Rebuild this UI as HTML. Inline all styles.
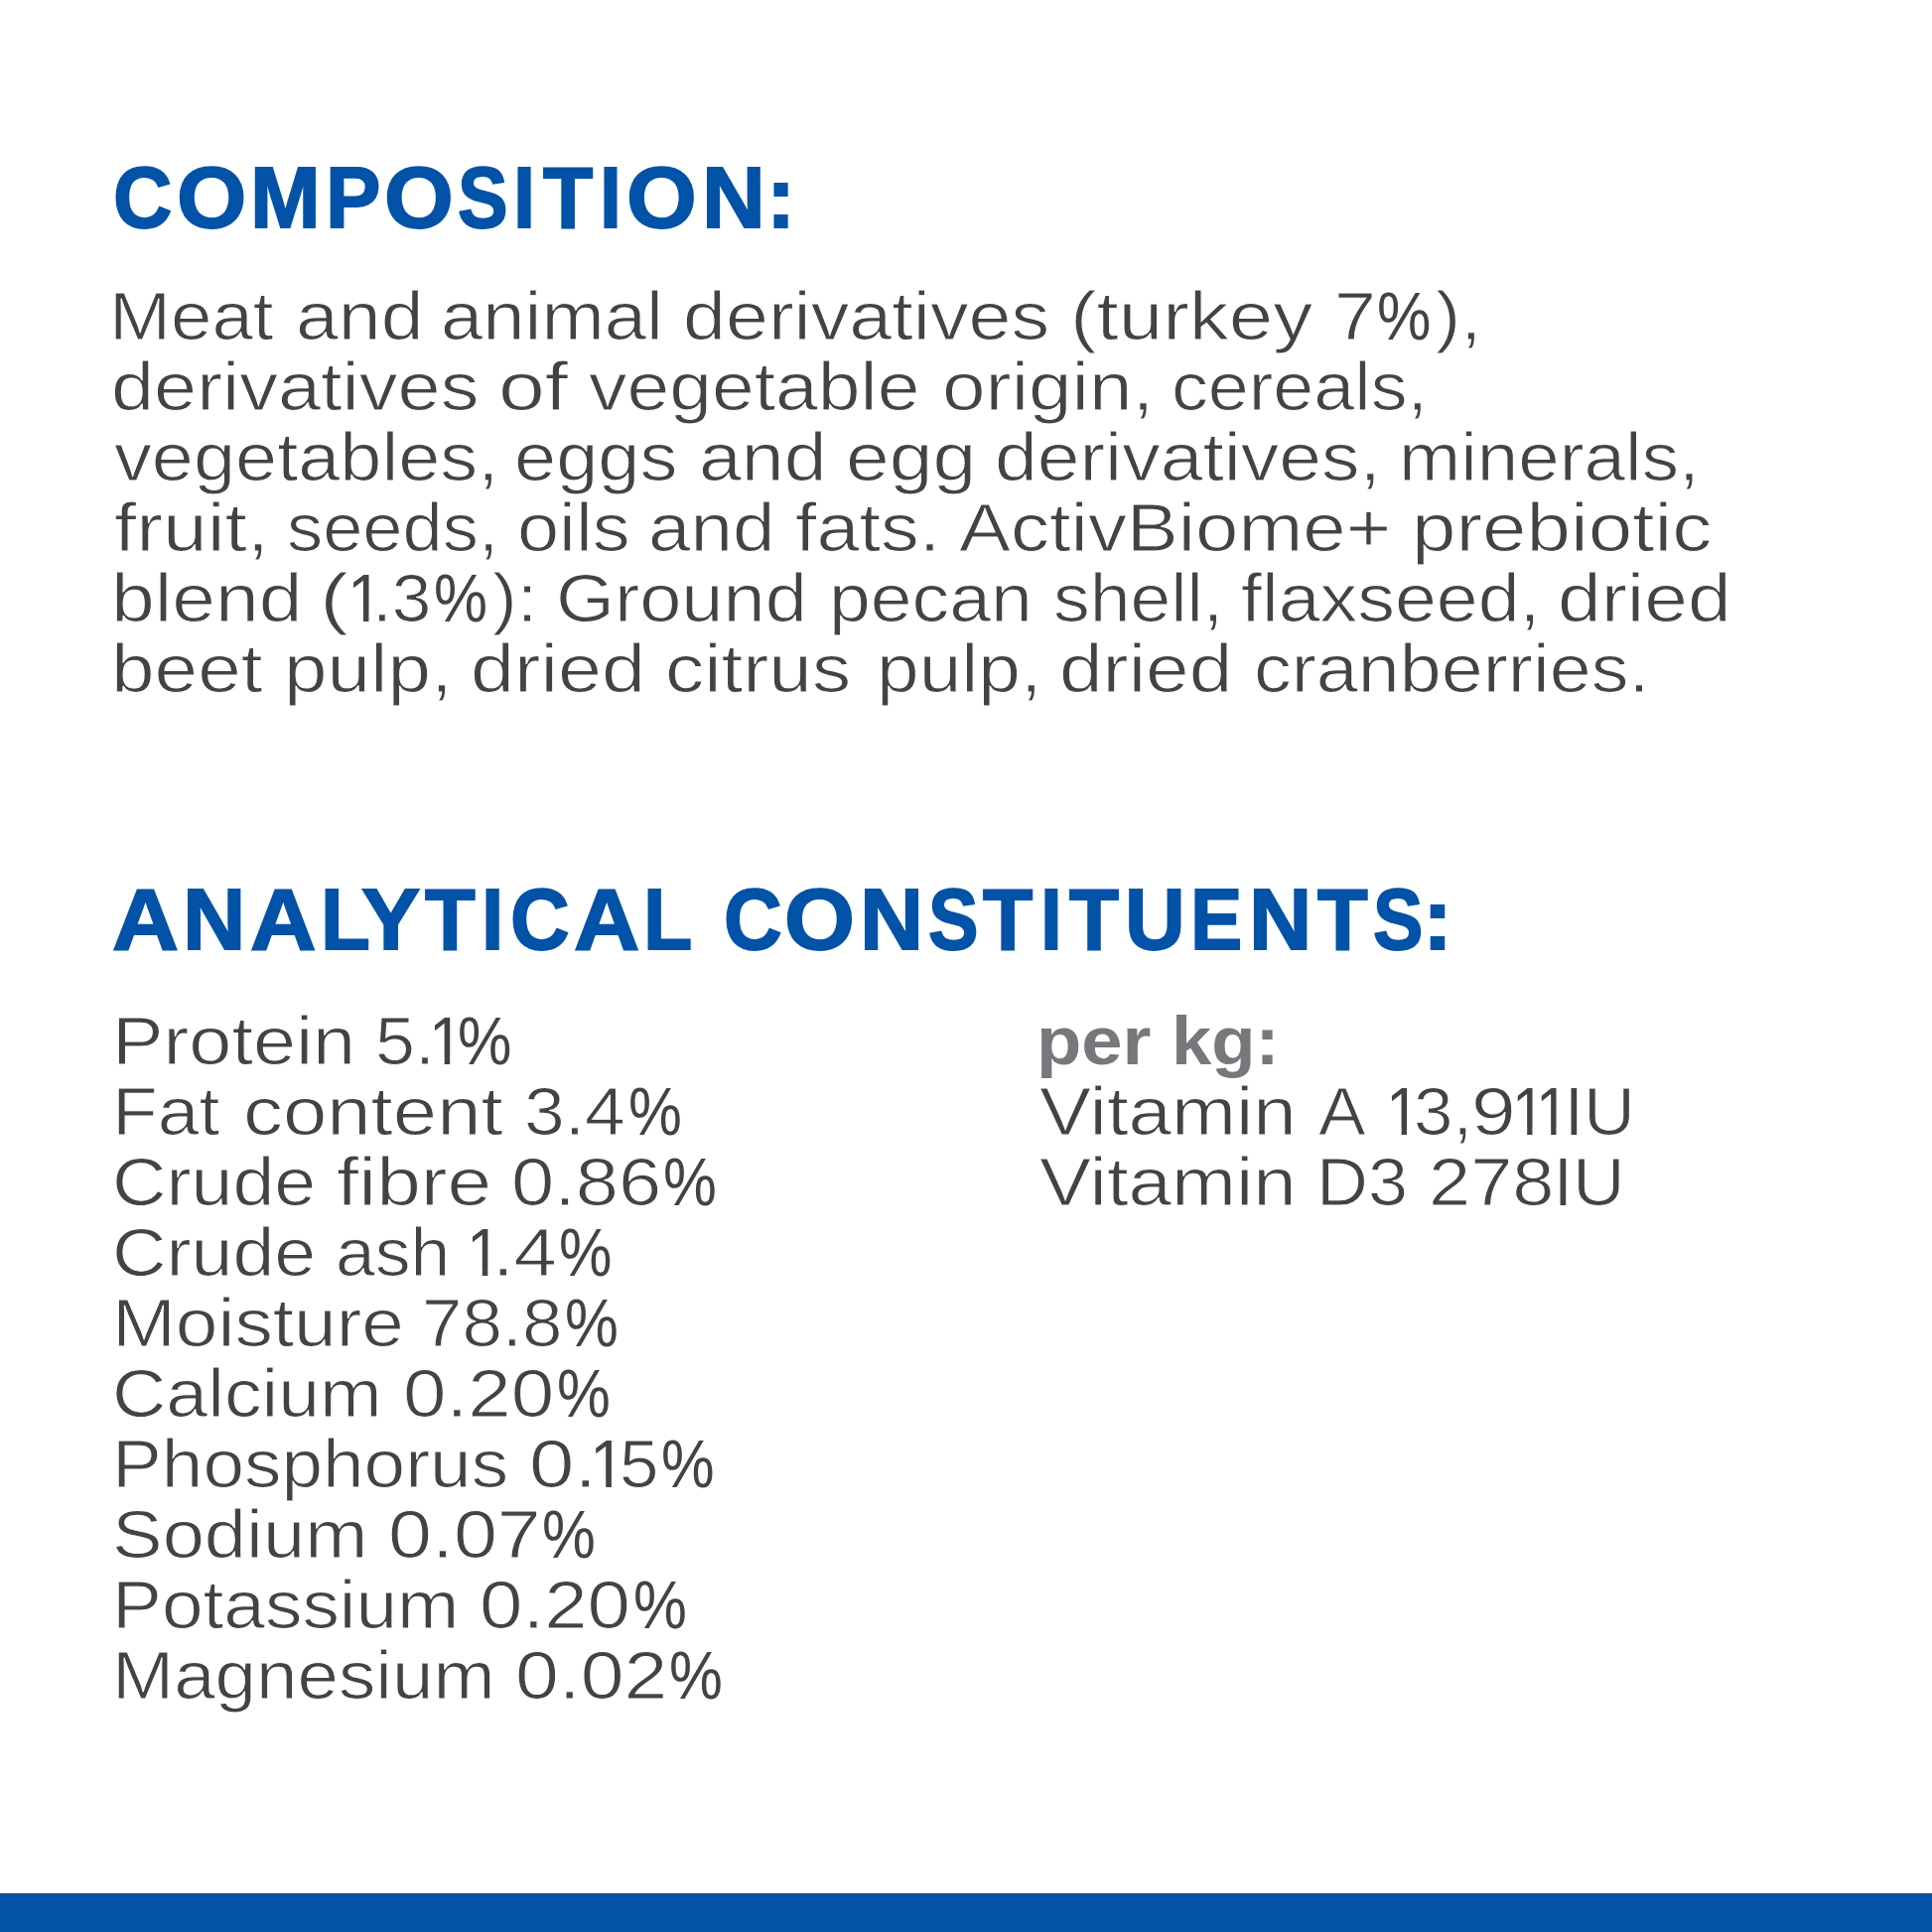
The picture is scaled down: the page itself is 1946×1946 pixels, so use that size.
<!DOCTYPE html>
<html lang="en"><head><meta charset="utf-8"><title>Composition</title>
<style>
html,body{margin:0;padding:0;background:#fff;}
body{width:1946px;height:1946px;position:relative;overflow:hidden;font-family:"Liberation Sans",sans-serif;}
h1,h2,h3,p,ul,li{margin:0;padding:0;list-style:none;font-size:0;line-height:0;font-weight:normal;}
.w{position:absolute;white-space:pre;transform-origin:0 0;display:block;}
.n{font-size:68.3px;line-height:68.3px;font-weight:400;color:#414347;}
.h{font-size:86.9px;line-height:86.9px;font-weight:700;color:#0252A8;-webkit-text-stroke:1.8px #0252A8;}
.b{font-size:68.3px;line-height:68.3px;font-weight:400;color:#414347;-webkit-text-stroke:1px #fff;}
.k{font-size:68.3px;line-height:68.3px;font-weight:700;color:#77787C;}
.bar{position:absolute;left:0;top:1907px;width:1946px;height:39px;background:linear-gradient(#15487f 0,#15487f 1px,#0a4f9c 1px,#0a4f9c 2px,#0252A8 2px,#0252A8 100%);}
</style></head><body>
<h1><span class="w h" style="left:114.46px;top:155.55px;transform:scaleX(0.9458);">C</span><span class="w h" style="left:177.51px;top:155.55px;transform:scaleX(1.0402);">O</span><span class="w h" style="left:251.50px;top:155.55px;transform:scaleX(0.9769);">M</span><span class="w h" style="left:328.20px;top:155.55px;transform:scaleX(0.9567);">P</span><span class="w h" style="left:387.13px;top:155.55px;transform:scaleX(1.0322);">O</span><span class="w h" style="left:460.92px;top:155.55px;transform:scaleX(0.8730);">S</span><span class="w h" style="left:517.21px;top:155.55px;transform:scaleX(0.9150);">I</span><span class="w h" style="left:547.12px;top:155.55px;transform:scaleX(0.9468);">T</span><span class="w h" style="left:604.24px;top:155.55px;transform:scaleX(0.9080);">I</span><span class="w h" style="left:631.39px;top:155.55px;transform:scaleX(1.0467);">O</span><span class="w h" style="left:707.20px;top:155.55px;transform:scaleX(1.0178);">N</span><span class="w h" style="left:771.98px;top:155.55px;transform:scaleX(1.0069);">:</span></h1>
<p>
<span class="w b" style="left:110.29px;top:283.95px;transform:scaleX(1.0898);">Meat</span> <span class="w b" style="left:297.66px;top:283.95px;transform:scaleX(1.1275);">and</span> <span class="w b" style="left:444.11px;top:283.95px;transform:scaleX(1.1134);">animal</span> <span class="w b" style="left:688.20px;top:283.95px;transform:scaleX(1.1305);">derivatives</span> <span class="w b" style="left:1077.74px;top:283.95px;transform:scaleX(1.1697);">(turkey</span> <span class="w b" style="left:1344.49px;top:283.95px;transform:scaleX(1.1033);">7</span><span class="w n" style="left:1386.50px;top:283.95px;transform:scaleX(0.8958);">%</span><span class="w b" style="left:1445.65px;top:283.95px;transform:scaleX(1.1058);">),</span>
<span class="w b" style="left:112.19px;top:354.95px;transform:scaleX(1.1346);">derivatives</span> <span class="w b" style="left:502.34px;top:354.95px;transform:scaleX(1.2326);">of</span> <span class="w b" style="left:593.43px;top:354.95px;transform:scaleX(1.1256);">vegetable</span> <span class="w b" style="left:949.14px;top:354.95px;transform:scaleX(1.1468);">origin,</span> <span class="w b" style="left:1179.74px;top:354.95px;transform:scaleX(1.0788);">cereals,</span>
<span class="w b" style="left:115.04px;top:426.05px;transform:scaleX(1.1084);">vegetables,</span> <span class="w b" style="left:518.45px;top:426.05px;transform:scaleX(1.1094);">eggs</span> <span class="w b" style="left:703.86px;top:426.05px;transform:scaleX(1.1275);">and</span> <span class="w b" style="left:851.50px;top:426.05px;transform:scaleX(1.1527);">egg</span> <span class="w b" style="left:1002.22px;top:426.05px;transform:scaleX(1.1257);">derivatives,</span> <span class="w b" style="left:1409.00px;top:426.05px;transform:scaleX(1.0927);">minerals,</span>
<span class="w b" style="left:115.20px;top:497.05px;transform:scaleX(1.1757);">fruit,</span> <span class="w b" style="left:288.79px;top:497.05px;transform:scaleX(1.0585);">seeds,</span> <span class="w b" style="left:520.57px;top:497.05px;transform:scaleX(1.1081);">oils</span> <span class="w b" style="left:652.99px;top:497.05px;transform:scaleX(1.1190);">and</span> <span class="w b" style="left:800.77px;top:497.05px;transform:scaleX(1.1334);">fats.</span> <span class="w b" style="left:965.71px;top:497.05px;transform:scaleX(1.1408);">ActivBiome+</span> <span class="w b" style="left:1421.65px;top:497.05px;transform:scaleX(1.1703);">prebiotic</span>
<span class="w b" style="left:112.04px;top:568.15px;transform:scaleX(1.1520);">blend</span> <span class="w b" style="left:321.71px;top:568.15px;transform:scaleX(1.2775);">(</span><span class="w n" style="left:349.52px;top:568.15px;transform:scaleX(0.9254);clip-path:polygon(0 0,37.99px 0,37.99px 51.75px,23.21px 51.75px,23.21px 68.30px,17.18px 68.30px,17.18px 51.75px,0 51.75px);">1</span><span class="w b" style="left:375.48px;top:568.15px;transform:scaleX(1.0424);">.3</span><span class="w n" style="left:437.31px;top:568.15px;transform:scaleX(0.8886);">%</span><span class="w b" style="left:495.76px;top:568.15px;transform:scaleX(1.0877);">):</span> <span class="w b" style="left:560.42px;top:568.15px;transform:scaleX(1.1100);">Ground</span> <span class="w b" style="left:835.20px;top:568.15px;transform:scaleX(1.1006);">pecan</span> <span class="w b" style="left:1060.64px;top:568.15px;transform:scaleX(1.0739);">shell,</span> <span class="w b" style="left:1250.01px;top:568.15px;transform:scaleX(1.1031);">flaxseed,</span> <span class="w b" style="left:1569.13px;top:568.15px;transform:scaleX(1.1505);">dried</span>
<span class="w b" style="left:112.07px;top:639.15px;transform:scaleX(1.1470);">beet</span> <span class="w b" style="left:286.17px;top:639.15px;transform:scaleX(1.1457);">pulp,</span> <span class="w b" style="left:473.81px;top:639.15px;transform:scaleX(1.1589);">dried</span> <span class="w b" style="left:669.90px;top:639.15px;transform:scaleX(1.1463);">citrus</span> <span class="w b" style="left:882.99px;top:639.15px;transform:scaleX(1.1230);">pulp,</span> <span class="w b" style="left:1067.44px;top:639.15px;transform:scaleX(1.1478);">dried</span> <span class="w b" style="left:1263.35px;top:639.15px;transform:scaleX(1.1048);">cranberries.</span>
</p>
<h2><span class="w h" style="left:112.86px;top:883.05px;transform:scaleX(1.0683);">A</span><span class="w h" style="left:183.84px;top:883.05px;transform:scaleX(1.0102);">N</span><span class="w h" style="left:252.47px;top:883.05px;transform:scaleX(1.0599);">A</span><span class="w h" style="left:323.39px;top:883.05px;transform:scaleX(0.9398);">L</span><span class="w h" style="left:364.37px;top:883.05px;transform:scaleX(1.0227);">Y</span><span class="w h" style="left:427.82px;top:883.05px;transform:scaleX(0.9562);">T</span><span class="w h" style="left:485.17px;top:883.05px;transform:scaleX(0.9219);">I</span><span class="w h" style="left:514.25px;top:883.05px;transform:scaleX(0.9509);">C</span><span class="w h" style="left:577.57px;top:883.05px;transform:scaleX(1.0566);">A</span><span class="w h" style="left:648.44px;top:883.05px;transform:scaleX(0.9290);">L</span> <span class="w h" style="left:728.59px;top:883.05px;transform:scaleX(0.9356);">C</span><span class="w h" style="left:790.18px;top:883.05px;transform:scaleX(1.0499);">O</span><span class="w h" style="left:865.58px;top:883.05px;transform:scaleX(1.0216);">N</span><span class="w h" style="left:934.92px;top:883.05px;transform:scaleX(0.8712);">S</span><span class="w h" style="left:989.82px;top:883.05px;transform:scaleX(0.9468);">T</span><span class="w h" style="left:1048.08px;top:883.05px;transform:scaleX(0.9010);">I</span><span class="w h" style="left:1077.02px;top:883.05px;transform:scaleX(0.9411);">T</span><span class="w h" style="left:1132.51px;top:883.05px;transform:scaleX(0.9664);">U</span><span class="w h" style="left:1199.47px;top:883.05px;transform:scaleX(0.9022);">E</span><span class="w h" style="left:1258.34px;top:883.05px;transform:scaleX(1.0102);">N</span><span class="w h" style="left:1327.12px;top:883.05px;transform:scaleX(0.9562);">T</span><span class="w h" style="left:1382.82px;top:883.05px;transform:scaleX(0.8693);">S</span><span class="w h" style="left:1433.47px;top:883.05px;transform:scaleX(1.0354);">:</span></h2>
<ul>
<li><span class="w b" style="left:112.53px;top:1013.75px;transform:scaleX(1.1328);">Protein</span> <span class="w b" style="left:378.06px;top:1013.75px;transform:scaleX(1.0517);">5.</span><span class="w n" style="left:432.20px;top:1013.75px;transform:scaleX(0.9134);clip-path:polygon(0 0,37.99px 0,37.99px 51.75px,23.21px 51.75px,23.21px 68.30px,17.18px 68.30px,17.18px 51.75px,0 51.75px);">1</span><span class="w n" style="left:461.10px;top:1013.75px;transform:scaleX(0.8958);">%</span></li>
<li><span class="w b" style="left:112.75px;top:1084.75px;transform:scaleX(1.0969);">Fat</span> <span class="w b" style="left:244.53px;top:1084.75px;transform:scaleX(1.1679);">content</span> <span class="w b" style="left:528.03px;top:1084.75px;transform:scaleX(1.0720);">3.4</span><span class="w n" style="left:633.22px;top:1084.75px;transform:scaleX(0.8868);">%</span></li>
<li><span class="w b" style="left:113.44px;top:1155.75px;transform:scaleX(1.1033);">Crude</span> <span class="w b" style="left:339.10px;top:1155.75px;transform:scaleX(1.1761);">fibre</span> <span class="w b" style="left:515.15px;top:1155.75px;transform:scaleX(1.1373);">0.86</span><span class="w n" style="left:668.42px;top:1155.75px;transform:scaleX(0.8868);">%</span></li>
<li><span class="w b" style="left:113.44px;top:1226.85px;transform:scaleX(1.1033);">Crude</span> <span class="w b" style="left:338.24px;top:1226.85px;transform:scaleX(1.0481);">ash</span> <span class="w n" style="left:470.06px;top:1226.85px;transform:scaleX(0.9194);clip-path:polygon(0 0,37.99px 0,37.99px 51.75px,23.21px 51.75px,23.21px 68.30px,17.18px 68.30px,17.18px 51.75px,0 51.75px);">1</span><span class="w b" style="left:495.52px;top:1226.85px;transform:scaleX(1.1389);">.4</span><span class="w n" style="left:563.34px;top:1226.85px;transform:scaleX(0.8797);">%</span></li>
<li><span class="w b" style="left:112.59px;top:1297.95px;transform:scaleX(1.1219);">Moisture</span> <span class="w b" style="left:425.44px;top:1297.95px;transform:scaleX(1.0644);">78.8</span><span class="w n" style="left:569.32px;top:1297.95px;transform:scaleX(0.8868);">%</span></li>
<li><span class="w b" style="left:113.45px;top:1369.05px;transform:scaleX(1.1017);">Calcium</span> <span class="w b" style="left:405.82px;top:1369.05px;transform:scaleX(1.1448);">0.20</span><span class="w n" style="left:560.82px;top:1369.05px;transform:scaleX(0.8868);">%</span></li>
<li><span class="w b" style="left:112.76px;top:1440.05px;transform:scaleX(1.0948);">Phosphorus</span> <span class="w b" style="left:533.48px;top:1440.05px;transform:scaleX(1.1950);">0.</span><span class="w n" style="left:594.20px;top:1440.05px;transform:scaleX(0.9434);clip-path:polygon(0 0,37.99px 0,37.99px 51.75px,23.21px 51.75px,23.21px 68.30px,17.18px 68.30px,17.18px 51.75px,0 51.75px);">1</span><span class="w b" style="left:623.81px;top:1440.05px;transform:scaleX(1.0394);">5</span><span class="w n" style="left:666.23px;top:1440.05px;transform:scaleX(0.8833);">%</span></li>
<li><span class="w b" style="left:113.41px;top:1511.15px;transform:scaleX(1.1117);">Sodium</span> <span class="w b" style="left:391.09px;top:1511.15px;transform:scaleX(1.1567);">0.07</span><span class="w n" style="left:546.42px;top:1511.15px;transform:scaleX(0.8868);">%</span></li>
<li><span class="w b" style="left:112.75px;top:1582.25px;transform:scaleX(1.0961);">Potassium</span> <span class="w b" style="left:482.73px;top:1582.25px;transform:scaleX(1.1440);">0.20</span><span class="w n" style="left:637.62px;top:1582.25px;transform:scaleX(0.8868);">%</span></li>
<li><span class="w b" style="left:112.78px;top:1653.25px;transform:scaleX(1.0921);">Magnesium</span> <span class="w b" style="left:518.50px;top:1653.25px;transform:scaleX(1.1543);">0.02</span><span class="w n" style="left:673.52px;top:1653.25px;transform:scaleX(0.8868);">%</span></li>
</ul>
<h3><span class="w k" style="left:1044.07px;top:1013.75px;transform:scaleX(1.0858);">per</span> <span class="w k" style="left:1179.64px;top:1013.75px;transform:scaleX(1.0610);">kg:</span></h3>
<ul>
<li><span class="w b" style="left:1047.25px;top:1084.75px;transform:scaleX(1.1421);">Vitamin</span> <span class="w b" style="left:1328.20px;top:1084.75px;transform:scaleX(1.0456);">A</span> <span class="w n" style="left:1395.54px;top:1084.75px;transform:scaleX(0.9074);clip-path:polygon(0 0,37.99px 0,37.99px 51.75px,23.21px 51.75px,23.21px 68.30px,17.18px 68.30px,17.18px 51.75px,0 51.75px);">1</span><span class="w b" style="left:1424.43px;top:1084.75px;transform:scaleX(1.0383);">3,</span><span class="w b" style="left:1481.91px;top:1084.75px;transform:scaleX(1.1771);">9</span><span class="w n" style="left:1522.50px;top:1084.75px;transform:scaleX(0.8833);clip-path:polygon(0 0,37.99px 0,37.99px 51.75px,23.21px 51.75px,23.21px 68.30px,17.18px 68.30px,17.18px 51.75px,0 51.75px);">1</span><span class="w n" style="left:1547.00px;top:1084.75px;transform:scaleX(0.8833);clip-path:polygon(0 0,37.99px 0,37.99px 51.75px,23.21px 51.75px,23.21px 68.30px,17.18px 68.30px,17.18px 51.75px,0 51.75px);">1</span><span class="w n" style="left:1577.01px;top:1084.75px;transform:scaleX(0.8842);">I</span><span class="w b" style="left:1594.84px;top:1084.75px;transform:scaleX(1.0523);">U</span></li>
<li><span class="w b" style="left:1047.25px;top:1155.75px;transform:scaleX(1.1421);">Vitamin</span> <span class="w b" style="left:1326.12px;top:1155.75px;transform:scaleX(1.0527);">D3</span> <span class="w b" style="left:1438.66px;top:1155.75px;transform:scaleX(1.1097);">278</span><span class="w n" style="left:1566.11px;top:1155.75px;transform:scaleX(0.8842);">I</span><span class="w b" style="left:1583.85px;top:1155.75px;transform:scaleX(1.0683);">U</span></li>
</ul>
<div class="bar"></div>
</body></html>
